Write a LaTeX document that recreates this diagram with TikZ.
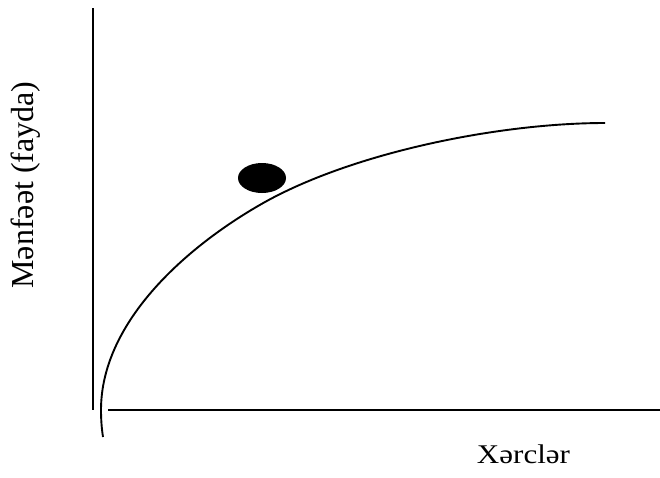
\documentclass[tikz,border=0pt]{standalone}
\usepackage{fontspec}
\setmainfont{Liberation Serif}
\begin{document}
\begin{tikzpicture}[x=1pt,y=-1pt,
  axis/.style={line width=2pt,black},
  curveline/.style={line width=1.9pt,black},
  lbl/.style={inner sep=0pt,font=\fontsize{32}{36}\selectfont}]
\useasboundingbox (0,0) rectangle (660,477);
% axes
\coordinate (ytop) at (93,8);
\coordinate (ybot) at (93,410);
\coordinate (xl) at (108,410);
\coordinate (xr) at (660,410);
\draw[axis] (ytop) -- (ybot);
\draw[axis] (xl) -- (xr);
% curve
\coordinate (c0) at (103,437);
\coordinate (c1) at (101,410);
\coordinate (c2) at (265,202);
\coordinate (c3) at (605,123);
\draw[curveline] (c0) .. controls (101.6,428) and (101,419) .. (c1)
  .. controls (101,320) and (190,244) .. (c2)
  .. controls (355,152) and (500,123) .. (c3);
% dot
\fill[black] (262,178) ellipse [x radius=24, y radius=15];
% labels
\node[lbl,rotate=90,anchor=base] (ylab) at (33,185) {Mənfəət (fayda)};
\node[lbl,anchor=base,font=\fontsize{27}{32}\selectfont] (xlab) at (523.5,463) {\scalebox{1.15}[1]{Xərclər}};
\end{tikzpicture}
\end{document}
